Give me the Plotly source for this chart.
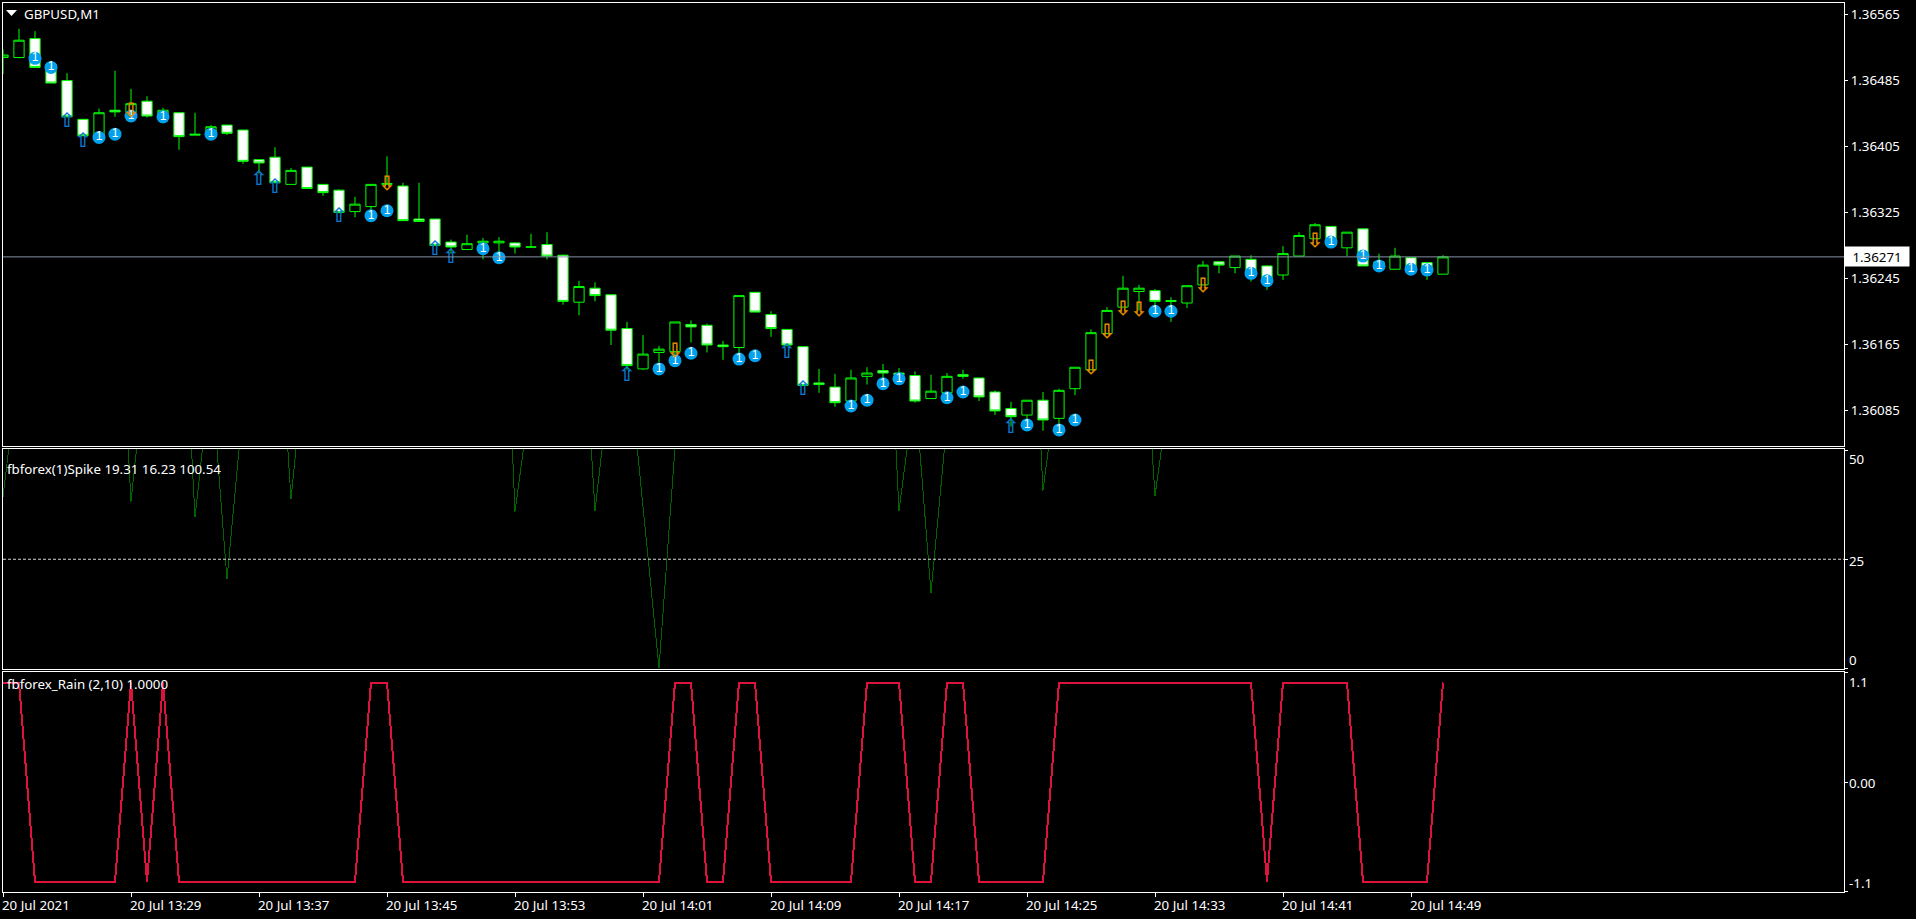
import plotly.graph_objects as go

W, H = 1916, 919

opens = [1.36513,1.36513,1.36536,1.36505,1.36485,1.36438,1.36419,1.36449,1.36446,1.36460,1.36444,1.36446,1.36420,1.36419,1.36431,1.36425,1.36389,1.36392,1.36359,1.36380,1.36359,1.36352,1.36326,1.36332,1.36359,1.36357,1.36317,1.36317,1.36289,1.36280,1.36288,1.36288,1.36288,1.36283,1.36286,1.36273,1.36216,1.36233,1.36225,1.36184,1.36135,1.36155,1.36156,1.36189,1.36188,1.36164,1.36161,1.36228,1.36201,1.36183,1.36162,1.36118,1.36113,1.36096,1.36126,1.36133,1.36130,1.36127,1.36099,1.36106,1.36128,1.36124,1.36107,1.36087,1.36079,1.36097,1.36075,1.36111,1.36134,1.36178,1.36210,1.36229,1.36230,1.36218,1.36215,1.36237,1.36265,1.36258,1.36268,1.36260,1.36249,1.36272,1.36293,1.36308,1.36282,1.36305,1.36265,1.36256,1.36270,1.36264,1.36250]
highs = [1.36523,1.36548,1.36545,1.36508,1.36494,1.36438,1.36451,1.36497,1.36475,1.36466,1.36452,1.36446,1.36446,1.36431,1.36431,1.36425,1.36389,1.36404,1.36379,1.36380,1.36359,1.36353,1.36344,1.36359,1.36393,1.36361,1.36361,1.36317,1.36292,1.36298,1.36294,1.36295,1.36289,1.36299,1.36301,1.36274,1.36242,1.36240,1.36225,1.36192,1.36176,1.36163,1.36192,1.36194,1.36190,1.36169,1.36224,1.36228,1.36205,1.36183,1.36162,1.36135,1.36129,1.36134,1.36137,1.36141,1.36136,1.36132,1.36128,1.36130,1.36134,1.36124,1.36109,1.36095,1.36097,1.36107,1.36111,1.36137,1.36183,1.36210,1.36248,1.36237,1.36232,1.36222,1.36236,1.36266,1.36265,1.36272,1.36273,1.36261,1.36284,1.36301,1.36312,1.36308,1.36301,1.36305,1.36275,1.36282,1.36270,1.36264,1.36273]
lows = [1.36493,1.36512,1.36501,1.36482,1.36441,1.36418,1.36418,1.36441,1.36441,1.36440,1.36433,1.36401,1.36419,1.36414,1.36419,1.36384,1.36372,1.36361,1.36359,1.36354,1.36345,1.36324,1.36319,1.36324,1.36359,1.36315,1.36314,1.36285,1.36275,1.36280,1.36268,1.36275,1.36275,1.36283,1.36268,1.36213,1.36200,1.36217,1.36164,1.36134,1.36134,1.36143,1.36150,1.36167,1.36155,1.36146,1.36150,1.36204,1.36174,1.36162,1.36115,1.36106,1.36089,1.36089,1.36116,1.36122,1.36122,1.36094,1.36099,1.36097,1.36123,1.36096,1.36079,1.36065,1.36069,1.36060,1.36065,1.36103,1.36134,1.36178,1.36210,1.36206,1.36210,1.36192,1.36209,1.36237,1.36251,1.36251,1.36241,1.36231,1.36243,1.36272,1.36293,1.36285,1.36272,1.36260,1.36256,1.36256,1.36255,1.36243,1.36250]
closes = [1.36516,1.36534,1.36501,1.36482,1.36441,1.36418,1.36446,1.36447,1.36457,1.36442,1.36449,1.36417,1.36419,1.36429,1.36421,1.36387,1.36385,1.36361,1.36376,1.36354,1.36349,1.36325,1.36335,1.36359,1.36360,1.36315,1.36314,1.36285,1.36283,1.36287,1.36290,1.36290,1.36283,1.36283,1.36272,1.36217,1.36235,1.36224,1.36182,1.36139,1.36153,1.36159,1.36192,1.36186,1.36164,1.36162,1.36224,1.36204,1.36184,1.36164,1.36115,1.36116,1.36094,1.36124,1.36130,1.36130,1.36128,1.36096,1.36108,1.36126,1.36126,1.36101,1.36084,1.36077,1.36097,1.36073,1.36109,1.36137,1.36179,1.36206,1.36233,1.36233,1.36217,1.36217,1.36236,1.36261,1.36261,1.36272,1.36249,1.36241,1.36275,1.36297,1.36310,1.36285,1.36301,1.36260,1.36256,1.36272,1.36255,1.36253,1.36271]
bars = list(range(len(opens)))

info_bars = [2,3,6,7,8,10,13,23,24,30,31,41,42,43,46,47,53,54,55,56,59,60,64,66,67,72,73,78,79,83,85,86,88,89]
info_prices = [1.36512,1.36501,1.36416,1.36420,1.36442,1.36441,1.36420,1.36321,1.36327,1.36281,1.36270,1.36135,1.36145,1.36154,1.36147,1.36151,1.36090,1.36097,1.36117,1.36123,1.36100,1.36107,1.36067,1.36061,1.36073,1.36205,1.36205,1.36251,1.36242,1.36289,1.36272,1.36260,1.36256,1.36255]
up_bars = [4,5,16,17,21,27,28,39,49,50,63]
up_prices = [1.36435,1.36411,1.36364,1.36355,1.36319,1.36279,1.36270,1.36126,1.36154,1.36110,1.36063]
down_bars = [8,24,42,68,69,70,71,75,82]
down_prices = [1.36447,1.36358,1.36155,1.36135,1.36179,1.36206,1.36205,1.36234,1.36289]

spike = [39.3,71,100,100,100,100,100,107,38.2,73,100,106,34.6,68,20.4,60,96,96,38.8,75,
         100,100,100,100,100,100,100,100,100,100,100,124,35.9,63,100,100,97,36.1,68,74,
         36.6,0.1,50.5,100,100,100,100,100,100,100,100,100,100,100,100,111,36.1,64,17.3,56.6,
         100,100,100,100,115,40.7,68.9,100,100,100,100,96.7,39.5,66,100,100,100,100,100,100,
         100,100,100,100,100,100,100,100,100,100,100.54]
rain = [1,1,-1,-1,-1,-1,-1,-1,1,-1,1,-1,-1,-1,-1,-1,-1,-1,-1,-1,-1,-1,-1,1,1,
        -1,-1,-1,-1,-1,-1,-1,-1,-1,-1,-1,-1,-1,-1,-1,-1,-1,1,1,-1,-1,1,1,-1,-1,
        -1,-1,-1,-1,1,1,1,-1,-1,1,1,-1,-1,-1,-1,-1,1,1,1,1,1,1,1,1,1,
        1,1,1,1,-1,1,1,1,1,1,-1,-1,-1,-1,-1,1]

current_price = 1.36271
current_label = "1.36271"
price_ticks = [1.36565,1.36485,1.36405,1.36325,1.36245,1.36165,1.36085]
price_tick_text = ["1.36565","1.36485","1.36405","1.36325","1.36245","1.36165","1.36085"]
time_bars = [0,8,16,24,32,40,48,56,64,72,80,88]
time_labels = ["20 Jul 2021","20 Jul 13:29","20 Jul 13:37","20 Jul 13:45","20 Jul 13:53","20 Jul 14:01",
               "20 Jul 14:09","20 Jul 14:17","20 Jul 14:25","20 Jul 14:33","20 Jul 14:41","20 Jul 14:49"]
spike_ticks = [50,25,0]
spike_tick_text = ["50","25","0"]
rain_ticks = [1.1,0,-1.1]
rain_tick_text = ["1.1","0.00","-1.1"]
chart_title = "GBPUSD,M1"
spike_title = "fbforex(1)Spike 19.31 16.23 100.54"
rain_title = "fbforex_Rain (2,10) 1.0000"

FONT = "Noto Sans"
FS = 13.3
FG = "#ffffff"
GREEN = "#00ff00"
LEFT, RIGHT = 3, 1844

def px(v): return v / W
def py(v): return 1 - v / H

fig = go.Figure()
fig.add_trace(go.Candlestick(x=bars, open=opens, high=highs, low=lows, close=closes,
    increasing=dict(line=dict(color=GREEN, width=1), fillcolor="#000000"),
    decreasing=dict(line=dict(color=GREEN, width=1), fillcolor="#ffffff"),
    whiskerwidth=0, hoverinfo="skip", showlegend=False, xaxis="x", yaxis="y"))
fig.add_trace(go.Scatter(x=info_bars, y=info_prices, mode="markers+text", text=["1"]*len(info_bars),
    textposition="middle center", textfont=dict(family="Liberation Sans", size=12, color="#ffffff"),
    marker=dict(symbol="circle", size=13, color="#00a2ed", line=dict(width=0)),
    hoverinfo="skip", showlegend=False, xaxis="x", yaxis="y"))
fig.add_trace(go.Scatter(x=up_bars, y=up_prices, mode="text", text=["\u21e7"]*len(up_bars),
    textposition="middle center", textfont=dict(family="DejaVu Sans", size=20, weight="bold", color="#0a78d2"),
    hoverinfo="skip", showlegend=False, xaxis="x", yaxis="y"))
fig.add_trace(go.Scatter(x=down_bars, y=down_prices, mode="text", text=["\u21e9"]*len(down_bars),
    textposition="middle center", textfont=dict(family="DejaVu Sans", size=20, weight="bold", color="#e08a00"),
    hoverinfo="skip", showlegend=False, xaxis="x", yaxis="y"))
fig.add_trace(go.Scatter(x=bars, y=spike, mode="lines", line=dict(color="#006400", width=1),
    hoverinfo="skip", showlegend=False, xaxis="x2", yaxis="y2"))
fig.add_trace(go.Scatter(x=bars, y=rain, mode="lines", line=dict(color="#dc143c", width=2),
    hoverinfo="skip", showlegend=False, xaxis="x3", yaxis="y3"))

x_range = [(LEFT - 3) / 16, (RIGHT - 3) / 16]
def xaxis(**kw):
    d = dict(range=x_range, domain=[px(LEFT), px(RIGHT)], showgrid=False, zeroline=False,
             showline=True, mirror=True, linecolor=FG, linewidth=1, ticks="", showticklabels=False,
             fixedrange=True, rangeslider=dict(visible=False))
    d.update(kw); return d
def yaxis(**kw):
    d = dict(side="right", showgrid=False, zeroline=False, showline=True, mirror=True,
             linecolor=FG, linewidth=1, ticks="outside", ticklen=3, tickwidth=1, tickcolor=FG,
             fixedrange=True, tickfont=dict(family=FONT, size=FS, color=FG))
    d.update(kw); return d

def p_at(y): return 1.36245 + (278.3 - y) / 82380
def s_at(y): return (668.5 - y) / 4.37
def r_at(y): return (782 - y) / 99.5

fig.update_layout(
    width=W, height=H, autosize=False, margin=dict(l=0, r=0, t=0, b=0),
    paper_bgcolor="#000000", plot_bgcolor="#000000", boxgap=0.36, boxgroupgap=0,
    xaxis=xaxis(anchor="y"),
    xaxis2=xaxis(anchor="y2"),
    xaxis3=xaxis(anchor="y3", ticks="outside", ticklen=4, tickwidth=1, tickcolor=FG,
                 tickmode="array", tickvals=time_bars),
    yaxis=yaxis(anchor="x", domain=[py(446), py(3)], range=[p_at(446), p_at(3)],
                tickmode="array", tickvals=price_ticks, ticktext=price_tick_text),
    yaxis2=yaxis(anchor="x2", domain=[py(669), py(449)], range=[s_at(669), s_at(449)],
                 tickmode="array", tickvals=spike_ticks, showticklabels=False),
    yaxis3=yaxis(anchor="x3", domain=[py(892), py(672)], range=[r_at(892), r_at(672)],
                 tickmode="array", tickvals=rain_ticks, showticklabels=False),
    shapes=[
        dict(type="line", xref="x domain", yref="y", x0=0, x1=1, y0=current_price, y1=current_price,
             line=dict(color="#8492a6", width=1)),
        dict(type="line", xref="x2 domain", yref="y2", x0=0, x1=1, y0=25, y1=25,
             line=dict(color="#d8d8d8", width=1, dash="3px,2px")),
        dict(type="path", xref="paper", yref="paper", line=dict(width=0), fillcolor=FG,
             path=f"M {px(6)},{py(10)} L {px(17)},{py(10)} L {px(11.5)},{py(16)} Z"),
    ],
)

annotations = []
def label(text, x, y, color=FG, size=FS, family=FONT, **kw):
    annotations.append(dict(text=text, x=px(x), y=py(y), xref="paper", yref="paper", xanchor="left",
                            yanchor="middle", showarrow=False, borderpad=0,
                            font=dict(family=family, size=size, color=color), **kw))

label(chart_title, 23, 14)
label(spike_title, 6, 469)
label(rain_title, 6, 684)
for t, yy in zip(spike_tick_text, [459, 560.5, 660]):
    label(t, 1848, yy)
for t, yy in zip(rain_tick_text, [682, 783, 883]):
    label(t, 1848, yy)
for b, t in zip(time_bars, time_labels):
    annotations.append(dict(text=t, x=b, y=py(905), xref="x3", yref="paper", xanchor="left",
                            yanchor="middle", showarrow=False, borderpad=0, xshift=-2,
                            font=dict(family=FONT, size=FS, color=FG)))
annotations.append(dict(text=current_label, x=px(1877), y=current_price, xref="paper", yref="y",
                        xanchor="center", yanchor="middle", showarrow=False, width=62, height=17,
                        bgcolor="#ffffff", font=dict(family=FONT, size=FS, color="#000000")))
fig.update_layout(annotations=annotations)

fig.write_html("out.html", config={"displayModeBar": False},
               post_script="document.body.style.margin='0';document.documentElement.style.background='#000';"
                           "document.querySelectorAll('.scatterlayer .js-line').forEach(function(e){e.style.shapeRendering='crispEdges';});")
